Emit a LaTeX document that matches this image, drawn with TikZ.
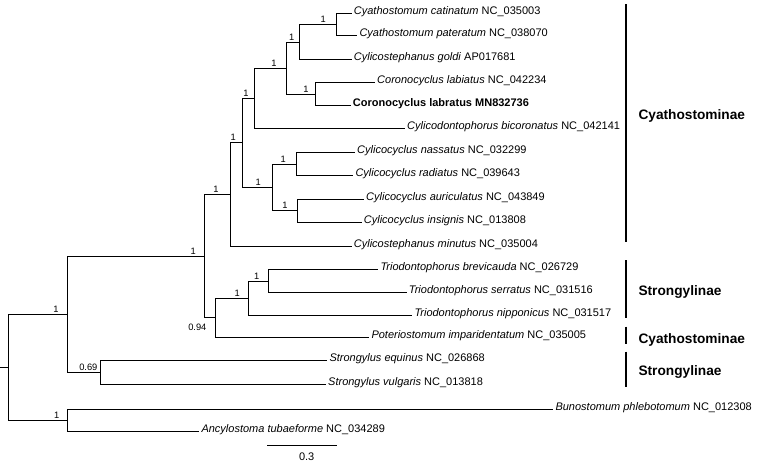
\documentclass[tikz,border=0pt]{standalone}
\usepackage{fontspec}
\setmainfont{Liberation Sans}
\begin{document}
\begin{tikzpicture}[x=1pt,y=-1pt,
  br/.style={line width=1.1pt, black},
  leaf/.style={anchor=base west, inner sep=0pt, font=\fontsize{11}{13}\selectfont},
  sup/.style={anchor=base, inner sep=0pt, font=\fontsize{9.3}{11}\selectfont},
  clade/.style={anchor=base west, inner sep=0pt, font=\fontsize{13.7}{16}\selectfont\bfseries},
  bar/.style={line width=2pt, black}]
\useasboundingbox (0,0) rectangle (760,463);
% leaf ends
\coordinate (t1) at (351.7,13.5);
\coordinate (t2) at (357.3,35.5);
\coordinate (t3) at (351.7,59.5);
\coordinate (t4) at (375,82.5);
\coordinate (t5) at (350.7,105.5);
\coordinate (t6) at (405,128.5);
\coordinate (t7) at (355,152.5);
\coordinate (t8) at (353.3,175.5);
\coordinate (t9) at (364,199.5);
\coordinate (t10) at (361.7,222.5);
\coordinate (t11) at (351.7,246.5);
\coordinate (t12) at (378.3,269.5);
\coordinate (t13) at (406.7,292.5);
\coordinate (t14) at (412.3,315.5);
\coordinate (t15) at (369.3,337.5);
\coordinate (t16) at (327.3,360.5);
\coordinate (t17) at (326,384.5);
\coordinate (t18) at (553.3,409.5);
\coordinate (t19) at (199.3,431.5);
% internal nodes
\coordinate (A) at (336.5,24.5);
\coordinate (B) at (299.5,42.5);
\coordinate (D) at (315.5,94.5);
\coordinate (C) at (286.5,68.5);
\coordinate (E) at (254.5,98.5);
\coordinate (H) at (296.5,164.5);
\coordinate (I) at (297.5,210.5);
\coordinate (G) at (272.5,187.5);
\coordinate (F) at (242.5,142.5);
\coordinate (J) at (230.5,194.5);
\coordinate (N) at (268.5,281.5);
\coordinate (M) at (248.5,298.5);
\coordinate (L) at (215.5,317.5);
\coordinate (K) at (204.5,256.5);
\coordinate (P) at (100.5,372.5);
\coordinate (O) at (67.5,314.5);
\coordinate (Q) at (67.5,420.5);
\coordinate (R) at (8.5,367.5);
\coordinate (R0) at (0,367.5);
% branches
\draw[br] (A) |- (t1); \draw[br] (A) |- (t2);
\draw[br] (B) |- (A); \draw[br] (B) |- (t3);
\draw[br] (D) |- (t4); \draw[br] (D) |- (t5);
\draw[br] (C) |- (B); \draw[br] (C) |- (D);
\draw[br] (E) |- (C); \draw[br] (E) |- (t6);
\draw[br] (H) |- (t7); \draw[br] (H) |- (t8);
\draw[br] (I) |- (t9); \draw[br] (I) |- (t10);
\draw[br] (G) |- (H); \draw[br] (G) |- (I);
\draw[br] (F) |- (E); \draw[br] (F) |- (G);
\draw[br] (J) |- (F); \draw[br] (J) |- (t11);
\draw[br] (N) |- (t12); \draw[br] (N) |- (t13);
\draw[br] (M) |- (N); \draw[br] (M) |- (t14);
\draw[br] (L) |- (M); \draw[br] (L) |- (t15);
\draw[br] (K) |- (J); \draw[br] (K) |- (L);
\draw[br] (P) |- (t16); \draw[br] (P) |- (t17);
\draw[br] (O) |- (K); \draw[br] (O) |- (P);
\draw[br] (Q) |- (t18); \draw[br] (Q) |- (t19);
\draw[br] (R) |- (O); \draw[br] (R) |- (Q);
\draw[br] (R0) -- (R);
% leaf labels
\node[leaf] (n1) at ([xshift=2pt,yshift=-1pt]t1) {\textit{Cyathostomum catinatum} NC\_035003};
\node[leaf] (n2) at ([xshift=2pt,yshift=-1pt]t2) {\textit{Cyathostomum pateratum} NC\_038070};
\node[leaf] (n3) at ([xshift=2pt,yshift=-1pt]t3) {\textit{Cylicostephanus goldi} AP017681};
\node[leaf] (n4) at ([xshift=2pt,yshift=-1pt]t4) {\textit{Coronocyclus labiatus} NC\_042234};
\node[leaf] (n5) at ([xshift=2pt,yshift=-1pt]t5) {\textbf{Coronocyclus labratus MN832736}};
\node[leaf] (n6) at ([xshift=2pt,yshift=-1pt]t6) {\textit{Cylicodontophorus bicoronatus} NC\_042141};
\node[leaf] (n7) at ([xshift=2pt,yshift=-1pt]t7) {\textit{Cylicocyclus nassatus} NC\_032299};
\node[leaf] (n8) at ([xshift=2pt,yshift=-1pt]t8) {\textit{Cylicocyclus radiatus} NC\_039643};
\node[leaf] (n9) at ([xshift=2pt,yshift=-1pt]t9) {\textit{Cylicocyclus auriculatus} NC\_043849};
\node[leaf] (n10) at ([xshift=2pt,yshift=-1pt]t10) {\textit{Cylicocyclus insignis} NC\_013808};
\node[leaf] (n11) at ([xshift=2pt,yshift=-1pt]t11) {\textit{Cylicostephanus minutus} NC\_035004};
\node[leaf] (n12) at ([xshift=2pt,yshift=-1pt]t12) {\textit{Triodontophorus brevicauda} NC\_026729};
\node[leaf] (n13) at ([xshift=2pt,yshift=-1pt]t13) {\textit{Triodontophorus serratus} NC\_031516};
\node[leaf] (n14) at ([xshift=2pt,yshift=-1pt]t14) {\textit{Triodontophorus nipponicus} NC\_031517};
\node[leaf] (n15) at ([xshift=2pt,yshift=-1pt]t15) {\textit{Poteriostomum imparidentatum} NC\_035005};
\node[leaf] (n16) at ([xshift=2pt,yshift=-1pt]t16) {\textit{Strongylus equinus} NC\_026868};
\node[leaf] (n17) at ([xshift=2pt,yshift=-1pt]t17) {\textit{Strongylus vulgaris} NC\_013818};
\node[leaf] (n18) at ([xshift=2pt,yshift=-1pt]t18) {\textit{Bunostomum phlebotomum} NC\_012308};
\node[leaf] (n19) at ([xshift=2pt,yshift=-1pt]t19) {\textit{Ancylostoma tubaeforme} NC\_034289};
% support values
\node[sup] (sA) at (323.3,22.7) {1};
\node[sup] (sB) at (291.7,40.7) {1};
\node[sup] (sC) at (274,66.7) {1};
\node[sup] (sD) at (306,92.7) {1};
\node[sup] (sE) at (246,96.7) {1};
\node[sup] (sF) at (233.3,140.7) {1};
\node[sup] (sG) at (258.3,185.7) {1};
\node[sup] (sH) at (283.3,162.7) {1};
\node[sup] (sI) at (285,208.7) {1};
\node[sup] (sJ) at (216,192.7) {1};
\node[sup] (sK) at (193.3,254.7) {1};
\node[sup] (sM) at (237.3,296.7) {1};
\node[sup] (sN) at (256.7,279.7) {1};
\node[sup] (sO) at (56,312.7) {1};
\node[sup] (sQ) at (56.7,418.7) {1};
\node[sup] (sP) at (88.3,370.7) {0.69};
\node[sup] (sL) at (197.3,330.6) {0.94};
% clade bars
\coordinate (c1a) at (626,4); \coordinate (c1b) at (626,241.7);
\coordinate (c2a) at (626,260); \coordinate (c2b) at (626,318.3);
\coordinate (c3a) at (626,326.7); \coordinate (c3b) at (626,344.3);
\coordinate (c4a) at (626,351.7); \coordinate (c4b) at (626,387.3);
\draw[bar] (c1a) -- (c1b);
\draw[bar] (c2a) -- (c2b);
\draw[bar] (c3a) -- (c3b);
\draw[bar] (c4a) -- (c4b);
\node[clade] (k1) at (638.3,119.9) {Cyathostominae};
\node[clade] (k2) at (638.3,295.6) {Strongylinae};
\node[clade] (k3) at (638.3,343.2) {Cyathostominae};
\node[clade] (k4) at (638.3,375.4) {Strongylinae};
% scale bar
\coordinate (sb1) at (267.3,445.5); \coordinate (sb2) at (337.3,445.5);
\draw[br] (sb1) -- (sb2);
\node[sup, font=\fontsize{11}{13}\selectfont] (sbl) at (306.7,460.6) {0.3};
\end{tikzpicture}
\end{document}
